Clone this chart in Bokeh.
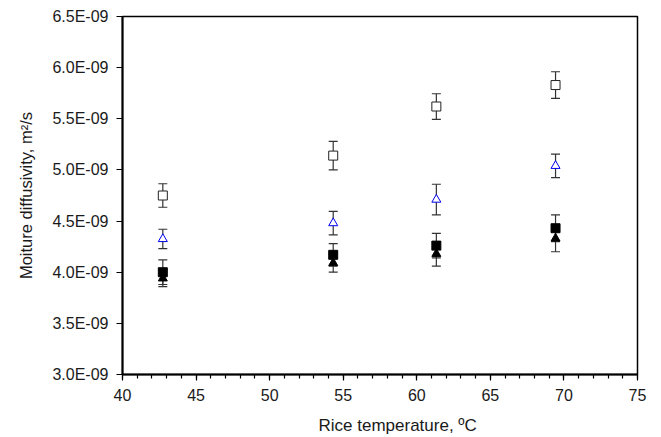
from bokeh.plotting import figure
from bokeh.models import Range1d, FixedTicker, CustomJSTickFormatter, Whisker, ColumnDataSource, TeeHead, Title
from bokeh.embed import file_html
from bokeh.resources import INLINE

# Data (diffusivity in m^2/s)
temps = [42.74, 54.32, 61.33, 69.43]
open_sq = [4.75e-9, 5.14e-9, 5.62e-9, 5.83e-9]
open_sq_err = [0.115e-9, 0.14e-9, 0.125e-9, 0.13e-9]
blue_tri = [4.325e-9, 4.48e-9, 4.71e-9, 5.04e-9]
blue_tri_err = [0.095e-9, 0.115e-9, 0.15e-9, 0.115e-9]
fill_sq = [4.00e-9, 4.17e-9, 4.26e-9, 4.43e-9]
fill_sq_err = [0.12e-9, 0.11e-9, 0.12e-9, 0.13e-9]
fill_tri = [3.94e-9, 4.09e-9, 4.18e-9, 4.33e-9]
fill_tri_err = [0.08e-9, 0.09e-9, 0.12e-9, 0.13e-9]

x_ticks = [40, 45, 50, 55, 60, 65, 70, 75]
x_minor = list(range(40, 76))
y_ticks = [3.0e-9, 3.5e-9, 4.0e-9, 4.5e-9, 5.0e-9, 5.5e-9, 6.0e-9, 6.5e-9]

x_title = "Rice temperature, ºC"
y_title = "Moiture diffusivity, m²/s"

FONT = "Liberation Sans"
TXT = "#1a1a1a"

p = figure(width=653, height=437, output_backend="svg", toolbar_location=None,
           x_range=Range1d(40, 75), y_range=Range1d(3.0e-9, 6.5e-9),
           frame_width=515, frame_height=358,
           min_border_left=122, min_border_right=16, min_border_top=16, min_border_bottom=63)
p.grid.visible = False
p.outline_line_color = "black"
p.outline_line_width = 1.5
p.background_fill_color = "white"
p.border_fill_color = "white"

p.xaxis.ticker = FixedTicker(ticks=x_ticks, minor_ticks=x_minor)
p.yaxis.ticker = FixedTicker(ticks=y_ticks)
p.yaxis.formatter = CustomJSTickFormatter(code="""
var s = tick.toExponential(1).split('e');
var e = parseInt(s[1]);
var sign = e < 0 ? '-' : '+';
var a = Math.abs(e);
return s[0] + 'E' + sign + (a < 10 ? '0' : '') + a;
""")

for ax in (p.xaxis, p.yaxis):
    ax.axis_line_color = "black"
    ax.axis_line_width = 2
    ax.major_tick_line_color = "black"
    ax.major_tick_line_width = 1.2
    ax.major_tick_in = 0
    ax.major_tick_out = 6
    ax.minor_tick_line_color = "black"
    ax.minor_tick_line_width = 1.2
    ax.minor_tick_in = 0
    ax.minor_tick_out = 4
    ax.major_label_text_font = FONT
    ax.major_label_text_font_size = "16px"
    ax.major_label_text_color = TXT
    ax.axis_label_text_font = FONT
    ax.axis_label_text_font_size = "16.5px"
    ax.axis_label_text_font_style = "normal"
    ax.axis_label_text_color = TXT

p.yaxis.minor_tick_line_color = None
p.xaxis.major_label_standoff = 8
p.yaxis.major_label_standoff = 8
p.yaxis.axis_label = y_title
p.yaxis.axis_label_standoff = 14

# x-axis title (slightly right of centre, as in the original)
p.add_layout(Title(text=x_title, align="left", offset=196, standoff=13,
                   padding=(0, 0, 4, 0),
                   text_font=FONT, text_font_size="17px", text_font_style="normal",
                   text_color=TXT), "below")

series = [
    (open_sq, open_sq_err, "square", "white", "#222222"),
    (blue_tri, blue_tri_err, "triangle", "white", "#0000ee"),
    (fill_sq, fill_sq_err, "square", "black", "black"),
    (fill_tri, fill_tri_err, "triangle", "black", "black"),
]

for vals, errs, marker, fill, line in series:
    src = ColumnDataSource(dict(
        x=temps, y=vals,
        lo=[v - e for v, e in zip(vals, errs)],
        hi=[v + e for v, e in zip(vals, errs)],
    ))
    w = Whisker(source=src, base="x", lower="lo", upper="hi", dimension="height",
                line_color="#333333", line_width=1.2,
                upper_head=TeeHead(size=9, line_color="#333333", line_width=1.2),
                lower_head=TeeHead(size=9, line_color="#333333", line_width=1.2))
    p.add_layout(w)

for vals, errs, marker, fill, line in series:
    p.scatter(temps, vals, marker=marker, size=9, fill_color=fill, line_color=line, line_width=1)

open("out.html", "w").write(file_html(p, INLINE))
